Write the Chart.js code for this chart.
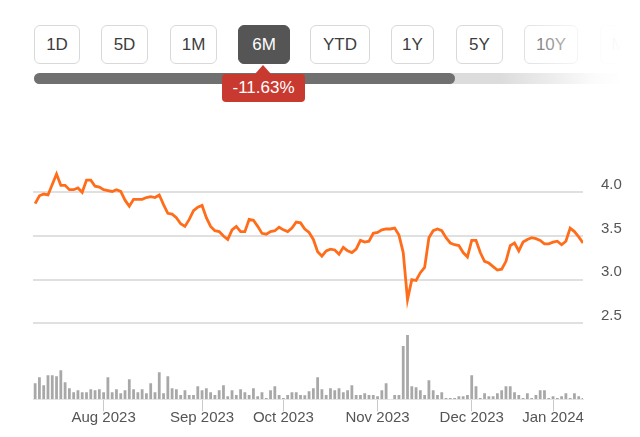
<!DOCTYPE html>
<html>
<head>
<meta charset="utf-8">
<script src="https://cdn.jsdelivr.net/npm/chart.js@4.4.1/dist/chart.umd.min.js"></script>
<style>
  html, body { margin: 0; padding: 0; background: #fff; }
  body { width: 640px; height: 437px; position: relative; overflow: hidden;
         font-family: "Liberation Sans", Arial, sans-serif; }
  .btn { position: absolute; top: 25px; height: 39px; box-sizing: border-box;
         border: 1px solid #d9d9d9; border-radius: 6px; background: #fff;
         color: #3d3d3d; font-size: 17px; line-height: 37px; text-align: center; }
  .btn.active { background: #555; border-color: #555; color: #fff; }
  #track { position: absolute; left: 34px; top: 73px; width: 606px; height: 11px;
           border-radius: 6px; background: #dcdcdc; }
  #fill { position: absolute; left: 34px; top: 73px; width: 421px; height: 11px;
          border-radius: 6px; background: #707070; }
  #fade { position: absolute; left: 500px; top: 0; width: 140px; height: 110px;
          background: linear-gradient(to right, rgba(255,255,255,0) 0%, rgba(255,255,255,0.45) 35%,
                      rgba(255,255,255,0.9) 68%, #fff 88%, #fff 100%); }
  #badge { position: absolute; left: 222px; top: 74px; width: 83px; height: 28px;
           border-radius: 4px; background: #c8392f; color: #fff; font-size: 17px;
           line-height: 28px; text-align: center; }
  #arrow { position: absolute; left: 255px; top: 65px; width: 0; height: 0;
           border-left: 8px solid transparent; border-right: 8px solid transparent;
           border-bottom: 9px solid #c8392f; }
  #wrap { position: absolute; left: 0; top: 110px; width: 640px; height: 327px; }
</style>
</head>
<body>
<div id="buttons"></div>
<div id="track"></div>
<div id="fill"></div>
<div id="fade"></div>
<div id="arrow"></div>
<div id="badge">-11.63%</div>
<div id="wrap"><canvas id="chartPrecio"></canvas></div>

<script>
// ---------- datos ----------
const rangeButtons = ["1D", "5D", "1M", "6M", "YTD", "1Y", "5Y", "10Y", "MAX"];
const activeRange = "6M";

const monthTickIdx = [16, 39, 58, 80, 102, 121];
const monthTickLabels = ["Aug 2023", "Sep 2023", "Oct 2023", "Nov 2023", "Dec 2023", "Jan 2024"];

const priceTicks = [2.5, 3.0, 3.5, 4.0];

const price = [
  3.87, 3.96, 3.98, 3.97, 4.09, 4.21, 4.08, 4.08, 4.03, 4.03,
  4.05, 4.00, 4.14, 4.14, 4.07, 4.06, 4.03, 4.02, 4.01, 4.03,
  4.01, 3.91, 3.84, 3.92, 3.92, 3.92, 3.94, 3.95, 3.94, 3.97,
  3.86, 3.76, 3.75, 3.71, 3.64, 3.61, 3.69, 3.79, 3.83, 3.85,
  3.71, 3.61, 3.56, 3.55, 3.50, 3.46, 3.57, 3.61, 3.55, 3.55,
  3.69, 3.68, 3.61, 3.53, 3.52, 3.55, 3.56, 3.60, 3.57, 3.55,
  3.59, 3.66, 3.65, 3.58, 3.54, 3.46, 3.32, 3.27, 3.33, 3.35,
  3.34, 3.29, 3.37, 3.33, 3.31, 3.35, 3.45, 3.43, 3.44, 3.53,
  3.54, 3.57, 3.58, 3.58, 3.59, 3.51, 3.31, 2.77, 3.00, 2.99,
  3.08, 3.14, 3.48, 3.56, 3.58, 3.56, 3.48, 3.42, 3.40, 3.39,
  3.31, 3.26, 3.45, 3.45, 3.31, 3.21, 3.19, 3.15, 3.11, 3.12,
  3.21, 3.39, 3.42, 3.33, 3.43, 3.46, 3.48, 3.47, 3.45, 3.41,
  3.41, 3.43, 3.44, 3.40, 3.44, 3.59, 3.55, 3.49, 3.42
];

// volumen (millones)
const volume = [
  1.6, 2.2, 1.4, 2.4, 2.4, 2.3, 2.9, 1.7, 1.1, 0.7,
  0.9, 0.7, 0.7, 1.0, 0.9, 1.0, 0.7, 2.2, 0.7, 1.0,
  0.6, 0.9, 2.0, 1.0, 0.7, 1.0, 0.6, 1.6, 0.7, 2.7,
  0.6, 2.3, 1.1, 1.0, 0.43, 0.9, 0.43, 0.43, 1.3, 0.9,
  1.1, 0.7, 0.43, 0.9, 1.4, 0.3, 0.9, 0.43, 1.0, 0.7,
  0.43, 1.1, 0.3, 0.7, 0.13, 0.9, 1.3, 0.43, 0.13, 0.43,
  0.7, 0.7, 0.43, 0.4, 0.8, 1.1, 2.2, 1.0, 0.43, 1.1,
  0.9, 1.1, 0.7, 0.9, 1.4, 0.43, 0.43, 0.6, 0.43, 0.43,
  0.3, 0.9, 1.6, 0, 0.43, 0.43, 5.33, 6.43, 1.3, 1.2,
  0.9, 0.43, 1.9, 0.9, 0.43, 0.7, 0.13, 0.13, 0.13, 0.3,
  0.3, 0.43, 2.4, 1.3, 0.13, 0.6, 0.3, 0.3, 0.6, 0.9,
  1.3, 1.3, 0.7, 0.43, 0.13, 0.6, 0.13, 0.43, 0.9, 0.9,
  0.13, 0.3, 0.13, 0.3, 0.6, 0.13, 0.6, 0.3, 0.13
];

// ---------- botones ----------
const btnPos = [[34, 46], [101, 47], [170, 47], [238, 52], [310, 60], [391, 43], [456, 47], [524, 54], [600, 60]];
const btnBox = document.getElementById("buttons");
rangeButtons.forEach((label, i) => {
  const b = document.createElement("div");
  b.className = "btn" + (label === activeRange ? " active" : "");
  b.style.left = btnPos[i][0] + "px";
  b.style.width = btnPos[i][1] + "px";
  b.textContent = label;
  btnBox.appendChild(b);
});

// ---------- gráfico ----------
Chart.defaults.font.family = '"Liberation Sans", Arial, sans-serif';
Chart.defaults.color = "#555";

const labels = price.map((_, i) => i);

new Chart(document.getElementById("chartPrecio"), {
  data: {
    labels: labels,
    datasets: [
      {
        type: "line",
        data: price,
        yAxisID: "y",
        borderColor: "#ff6d1a",
        borderWidth: 2.8,
        pointRadius: 0,
        tension: 0,
        order: 1,
      },
      {
        type: "bar",
        data: volume,
        yAxisID: "yv",
        backgroundColor: "#a8a8a8",
        barPercentage: 0.65,
        categoryPercentage: 1,
        order: 2,
      },
    ],
  },
  options: {
    responsive: true,
    maintainAspectRatio: false,
    animation: false,
    layout: { padding: { left: 33, top: 30, right: 0, bottom: 0 } },
    plugins: { legend: { display: false }, tooltip: { enabled: false } },
    scales: {
      x: {
        type: "linear",
        offset: false,
        min: -0.5,
        max: price.length - 1,
        afterBuildTicks: (axis) => { axis.ticks = monthTickIdx.map((v) => ({ value: v })); },
        afterFit: (axis) => { axis.height = 37.7; },
        ticks: {
          autoSkip: false,
          maxRotation: 0,
          padding: -2,
          font: { size: 15 },
          color: "#555",
          callback: (v) => monthTickLabels[monthTickIdx.indexOf(v)],
        },
        grid: { offset: false, drawOnChartArea: false, drawTicks: true, tickLength: 12, color: "#cacaca", lineWidth: 1 },
        border: { display: true, color: "#e6e6e6", width: 1 },
      },
      y: {
        position: "right",
        min: 1.63,
        max: 4.599,
        afterBuildTicks: (axis) => { axis.ticks = priceTicks.map((v) => ({ value: v })); },
        afterFit: (axis) => { axis.width = 57; },
        ticks: {
          padding: 18,
          labelOffset: -7.5,
          font: { size: 15 },
          color: "#555",
          callback: (v) => v.toFixed(1),
        },
        grid: { drawTicks: false, color: "#e0e0e0", lineWidth: 2 },
        border: { display: false },
      },
      yv: {
        display: false,
        min: 0,
        max: 25.93,
      },
    },
  },
});
</script>
</body>
</html>
